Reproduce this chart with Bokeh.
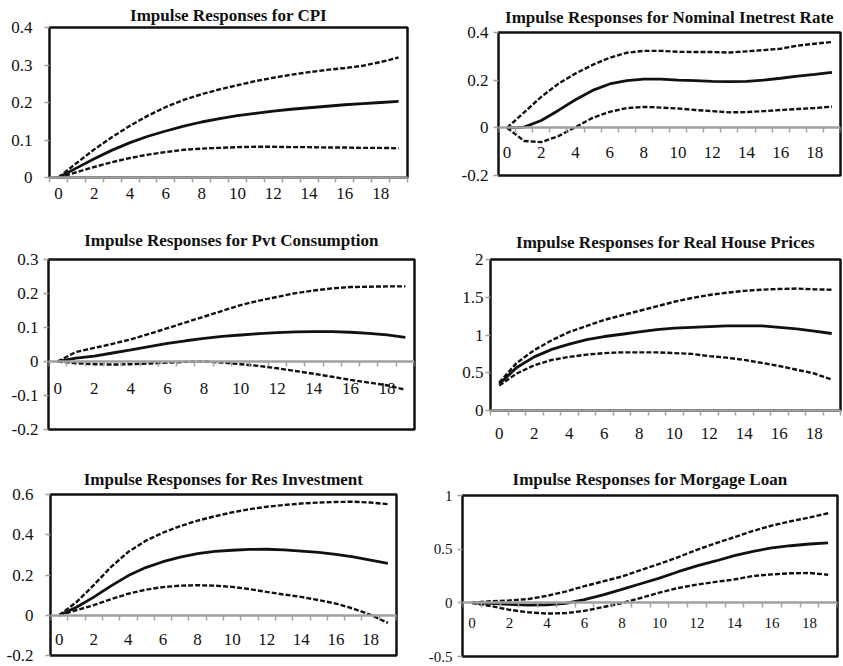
from bokeh.plotting import figure
from bokeh.models import LinearAxis, FixedTicker, Title, Range1d
from bokeh.layouts import column, row
from bokeh.embed import file_html
from bokeh.resources import INLINE

periods = list(range(20))

cpi_mid = [0, 0.025, 0.05, 0.073, 0.093, 0.11, 0.124, 0.137, 0.148, 0.157, 0.165, 0.171, 0.177, 0.182, 0.186, 0.19, 0.194, 0.197, 0.2, 0.203]
cpi_up = [0, 0.038, 0.075, 0.108, 0.138, 0.165, 0.188, 0.207, 0.222, 0.235, 0.246, 0.257, 0.266, 0.274, 0.281, 0.287, 0.292, 0.298, 0.308, 0.32]
cpi_lo = [0, 0.014, 0.028, 0.041, 0.052, 0.061, 0.068, 0.074, 0.077, 0.079, 0.081, 0.082, 0.082, 0.081, 0.081, 0.08, 0.08, 0.079, 0.079, 0.078]

rate_mid = [0, 0.003, 0.031, 0.073, 0.118, 0.157, 0.184, 0.198, 0.204, 0.204, 0.2, 0.198, 0.195, 0.194, 0.195, 0.2, 0.208, 0.217, 0.224, 0.233]
rate_up = [0, 0.065, 0.13, 0.185, 0.228, 0.264, 0.294, 0.315, 0.323, 0.323, 0.319, 0.318, 0.318, 0.316, 0.321, 0.326, 0.332, 0.345, 0.353, 0.36]
rate_lo = [0, -0.055, -0.06, -0.035, 0.003, 0.042, 0.067, 0.083, 0.088, 0.085, 0.081, 0.075, 0.07, 0.065, 0.066, 0.07, 0.075, 0.079, 0.083, 0.089]

cons_mid = [0, 0.01, 0.016, 0.025, 0.034, 0.044, 0.053, 0.061, 0.068, 0.074, 0.078, 0.082, 0.085, 0.087, 0.088, 0.088, 0.086, 0.083, 0.078, 0.071]
cons_up = [0, 0.028, 0.04, 0.052, 0.065, 0.081, 0.098, 0.115, 0.132, 0.149, 0.166, 0.179, 0.19, 0.201, 0.209, 0.215, 0.219, 0.22, 0.221, 0.221]
cons_lo = [0, -0.005, -0.008, -0.009, -0.008, -0.006, -0.003, -0.001, 0.0, -0.003, -0.008, -0.013, -0.02, -0.028, -0.036, -0.045, -0.054, -0.062, -0.07, -0.083]

house_mid = [0.35, 0.57, 0.71, 0.81, 0.88, 0.94, 0.98, 1.01, 1.04, 1.07, 1.09, 1.1, 1.11, 1.12, 1.12, 1.12, 1.1, 1.08, 1.05, 1.02]
house_up = [0.37, 0.63, 0.8, 0.93, 1.04, 1.12, 1.2, 1.26, 1.32, 1.38, 1.44, 1.49, 1.53, 1.56, 1.585, 1.6, 1.61, 1.615, 1.605, 1.6]
house_lo = [0.33, 0.49, 0.6, 0.67, 0.71, 0.74, 0.76, 0.77, 0.77, 0.77, 0.76, 0.75, 0.72, 0.7, 0.67, 0.63, 0.59, 0.54, 0.49, 0.41]

resinv_mid = [0, 0.04, 0.09, 0.146, 0.197, 0.237, 0.266, 0.289, 0.306, 0.317, 0.323, 0.327, 0.328, 0.325, 0.319, 0.312, 0.302, 0.29, 0.274, 0.258]
resinv_up = [0, 0.065, 0.15, 0.24, 0.315, 0.37, 0.41, 0.443, 0.47, 0.492, 0.511, 0.527, 0.539, 0.548, 0.555, 0.56, 0.563, 0.564, 0.56, 0.552]
resinv_lo = [0, 0.025, 0.05, 0.08, 0.107, 0.127, 0.14, 0.147, 0.149, 0.147, 0.141, 0.13, 0.116, 0.103, 0.091, 0.075, 0.058, 0.033, 0.002, -0.038]

loan_mid = [0, -0.005, -0.015, -0.022, -0.018, -0.005, 0.03, 0.075, 0.125, 0.178, 0.23, 0.29, 0.345, 0.39, 0.44, 0.48, 0.512, 0.532, 0.548, 0.558]
loan_up = [0, 0.015, 0.022, 0.035, 0.065, 0.105, 0.155, 0.2, 0.245, 0.305, 0.363, 0.425, 0.494, 0.555, 0.612, 0.67, 0.72, 0.76, 0.795, 0.835]
loan_lo = [0, -0.03, -0.065, -0.088, -0.1, -0.096, -0.075, -0.04, -0.002, 0.045, 0.095, 0.138, 0.17, 0.195, 0.218, 0.25, 0.265, 0.275, 0.278, 0.262]

titles = [
    "Impulse Responses for CPI",
    "Impulse Responses for Nominal Inetrest Rate",
    "Impulse Responses for Pvt Consumption",
    "Impulse Responses for Real House Prices",
    "Impulse Responses for Res Investment",
    "Impulse Responses for Morgage Loan",
]

cpi_ticks = [0, 0.1, 0.2, 0.3, 0.4]
cpi_labels = ["0", "0.1", "0.2", "0.3", "0.4"]
rate_ticks = [-0.2, 0, 0.2, 0.4]
rate_labels = ["-0.2", "0", "0.2", "0.4"]
cons_ticks = [-0.2, -0.1, 0, 0.1, 0.2, 0.3]
cons_labels = ["-0.2", "-0.1", "0", "0.1", "0.2", "0.3"]
house_ticks = [0, 0.5, 1, 1.5, 2]
house_labels = ["0", "0.5", "1", "1.5", "2"]
resinv_ticks = [-0.2, 0, 0.2, 0.4, 0.6]
resinv_labels = ["-0.2", "0", "0.2", "0.4", "0.6"]
loan_ticks = [-0.5, 0, 0.5, 1]
loan_labels = ["-0.5", "0", "0.5", "1"]

x_labels = [0, 2, 4, 6, 8, 10, 12, 14, 16, 18]
x_bounds = [i - 0.5 for i in range(21)]

FONT = "Liberation Serif"
GRAY = "#a0a0a0"
INK = "#111111"


def panel(title, mid, up, lo, yticks, ylabels, w, h, bl, br, bt, bb,
          title_standoff, y_standoff, x_standoff, fs, axis_inside):
    p = figure(width=w, height=h, output_backend="svg", toolbar_location=None,
               x_axis_type=None, y_axis_type=None, frame_align=False,
               x_range=Range1d(-0.5, 19.5), y_range=Range1d(yticks[0], yticks[-1]),
               min_border_left=bl, min_border_right=br, min_border_top=bt,
               min_border_bottom=bb, outline_line_color=INK, outline_line_width=2.5,
               background_fill_color="white", border_fill_color="white")
    p.grid.visible = False
    p.title = Title(text=title, align="center", text_font=FONT, text_font_size="17px",
                    text_font_style="bold", text_color=INK, standoff=title_standoff)

    yax = LinearAxis(ticker=FixedTicker(ticks=yticks),
                     major_label_overrides={t: l for t, l in zip(yticks, ylabels)},
                     major_label_text_font=FONT, major_label_text_font_size=fs,
                     major_label_text_font_style="normal",
                     major_label_text_color=INK, major_label_standoff=y_standoff,
                     major_tick_in=0, major_tick_out=5, major_tick_line_color=GRAY,
                     major_tick_line_width=1.5, minor_tick_line_color=None,
                     axis_line_color=None)
    p.add_layout(yax, "left")

    xax = LinearAxis(ticker=FixedTicker(ticks=x_labels, minor_ticks=x_bounds),
                     major_label_text_font=FONT, major_label_text_font_size=fs,
                     major_label_text_font_style="normal",
                     major_label_text_color=INK, major_label_standoff=x_standoff,
                     major_tick_in=0, major_tick_out=0,
                     minor_tick_in=0, minor_tick_out=5, minor_tick_line_color=GRAY,
                     minor_tick_line_width=1.5,
                     axis_line_color=GRAY, axis_line_width=2.5)
    if axis_inside:
        xax.fixed_location = 0
    p.add_layout(xax, "below")

    p.line(periods, up, line_color=INK, line_width=2.4, line_dash="5 2")
    p.line(periods, lo, line_color=INK, line_width=2.4, line_dash="5 2")
    p.line(periods, mid, line_color=INK, line_width=2.8)
    return p


p1 = panel(titles[0], cpi_mid, cpi_up, cpi_lo, cpi_ticks, cpi_labels,
           421, 218, 49, 14, 27, 41, 6, 12, 5, "17px", False)
p2 = panel(titles[1], rate_mid, rate_up, rate_lo, rate_ticks, rate_labels,
           422, 218, 77, 3, 32, 43, 11, 5, 14, "17px", True)
p3 = panel(titles[2], cons_mid, cons_up, cons_lo, cons_ticks, cons_labels,
           421, 229, 48, 7, 41, 18, 20, 5, 16, "17px", True)
p4 = panel(titles[3], house_mid, house_up, house_lo, house_ticks, house_labels,
           422, 229, 69, 3, 41, 37, 16, 2, 12, "17px", False)
p5 = panel(titles[4], resinv_mid, resinv_up, resinv_lo, resinv_ticks, resinv_labels,
           421, 219, 50, 25, 47, 11, 12, 12, 14, "17px", True)
p6 = panel(titles[5], loan_mid, loan_up, loan_lo, loan_ticks, loan_labels,
           422, 219, 41, 6, 48, 10, 14, 5, 10, "15px", True)

layout = column(row(p1, p2, spacing=0), row(p3, p4, spacing=0), row(p5, p6, spacing=0), spacing=0)

open("out.html", "w").write(file_html(layout, INLINE))
